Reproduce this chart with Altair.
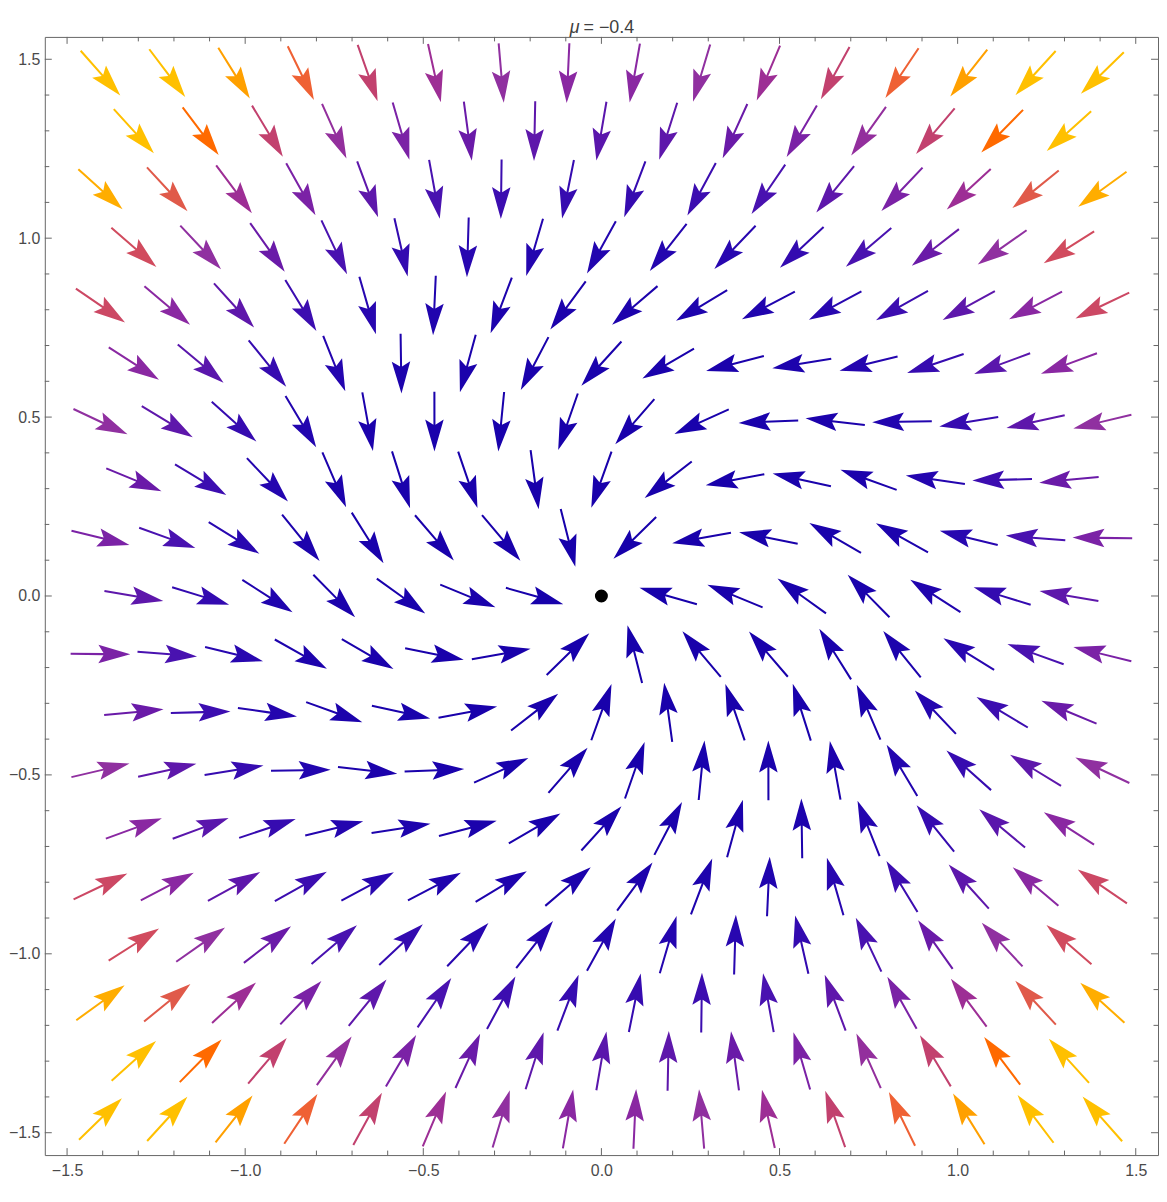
import math
import altair as alt
import pandas as pd

# Field parameters (title gives mu); polar form
# r' = mu*r + r^3 - r^5 ,  theta' = omega + b*r^2
MU = -0.4
OMEGA = 0.1
B_COEF = 0.1

# staggered (hexagonal) sample rows, top to bottom
ROW_Y = [1.46142, 1.29904, 1.13666, 0.97428, 0.81190, 0.64952, 0.48714, 0.32476, 0.16238, 0.0,
         -0.16238, -0.32476, -0.48714, -0.64952, -0.81190, -0.97428, -1.13666, -1.29904, -1.46142]
X_ODD = [-1.40625, -1.21875, -1.03125, -0.84375, -0.65625, -0.46875, -0.28125, -0.09375,
         0.09375, 0.28125, 0.46875, 0.65625, 0.84375, 1.03125, 1.21875, 1.40625]
X_EVEN = [-1.3125, -1.125, -0.9375, -0.75, -0.5625, -0.375, -0.1875, 0.0,
          0.1875, 0.375, 0.5625, 0.75, 0.9375, 1.125, 1.3125]

# colour by vector magnitude
MAG_STOPS = [0, 0.5, 1.5, 2.6, 3.4, 4.2, 4.6, 5.5, 7.0, 7.9, 8.9, 9.5, 10.6, 13.3, 15.5, 30]
MAG_COLORS = ["#1500aa", "#2606b0", "#4a12b0", "#6a1aa8", "#7a22a6", "#8a28a2", "#9030a0",
              "#9c2e96", "#c04070", "#d04a60", "#e05a4a", "#ee6038", "#ff6a00", "#ffa000",
              "#ffc000", "#ffc000"]

TICK_MAJOR = [-1.5, -1.0, -0.5, 0.0, 0.5, 1.0, 1.5]
TICK_MINOR = [-1.4, -1.3, -1.2, -1.1, -0.9, -0.8, -0.7, -0.6, -0.4, -0.3, -0.2, -0.1,
              0.1, 0.2, 0.3, 0.4, 0.6, 0.7, 0.8, 0.9, 1.1, 1.2, 1.3, 1.4]

DOM = [-1.5625, 1.5625]
W, H = 1119, 1124
SX = W / (DOM[1] - DOM[0])
SY = H / (DOM[1] - DOM[0])
FONT = "Liberation Sans"
FRAME = "#666666"
LABEL = "#4a4a4a"

rows = []
for i, y in enumerate(ROW_Y):
    xs = X_ODD if i % 2 == 0 else X_EVEN
    for x in xs:
        r2 = x * x + y * y
        radial = MU + r2 - r2 * r2
        turn = OMEGA + B_COEF * r2
        u = x * radial - y * turn
        v = y * radial + x * turn
        m = math.hypot(u, v)
        if m < 1e-12:
            continue
        deg = math.degrees(math.atan2(-v * SY, u * SX)) % 360
        rows.append({"x": x, "y": y, "mag": m, "angle": deg})
df = pd.DataFrame(rows)

ARROW = ("M-1,-0.034 L0.1,-0.034 L-0.07,-0.31 L1,0 L-0.07,0.31 "
         "L0.1,0.034 L-1,0.034 Z")

XS = alt.Scale(domain=DOM, nice=False, zero=False)
YS = alt.Scale(domain=DOM, nice=False, zero=False)
XA = alt.Axis(values=TICK_MAJOR, format=".1f", ticks=False, domain=False, grid=False,
              labelFont=FONT, labelFontSize=16, labelColor=LABEL, labelPadding=8,
              labelFlush=False, title=None)
YA = alt.Axis(values=TICK_MAJOR, format=".1f", ticks=False, domain=False, grid=False,
              labelFont=FONT, labelFontSize=16, labelColor=LABEL, labelPadding=5,
              labelFlush=False, title=None)


def xe(f):
    return alt.X(f, type="quantitative", scale=XS, axis=XA)


def ye(f):
    return alt.Y(f, type="quantitative", scale=YS, axis=YA)


arrows = alt.Chart(df).mark_point(
    shape=ARROW, filled=True, opacity=1, size=3600, strokeWidth=0
).encode(
    x=xe("x"), y=ye("y"),
    angle=alt.Angle("angle:Q", scale=None),
    color=alt.Color("mag:Q", scale=alt.Scale(domain=MAG_STOPS, range=MAG_COLORS,
                                             interpolate="rgb"), legend=None),
)

dot = alt.Chart(pd.DataFrame({"x": [0.0], "y": [0.0]})).mark_circle(
    color="black", opacity=1, size=170
).encode(x=xe("x"), y=ye("y"))

maj = pd.DataFrame({"v": TICK_MAJOR})
mnr = pd.DataFrame({"v": TICK_MINOR})
ticks = []
for d, L in ((maj, 7), (mnr, 4.5)):
    base = alt.Chart(d).mark_rule(color=FRAME, strokeWidth=1)
    ticks.append(base.encode(x=xe("v"), y=alt.value(H), y2=alt.value(H - L)))
    ticks.append(base.encode(x=xe("v"), y=alt.value(0), y2=alt.value(L)))
    ticks.append(base.encode(y=ye("v"), x=alt.value(0), x2=alt.value(L)))
    ticks.append(base.encode(y=ye("v"), x=alt.value(W), x2=alt.value(W - L)))

one = pd.DataFrame({"a": [0]})
t_mu = alt.Chart(one).mark_text(
    text="μ", font=FONT, fontSize=18, fontStyle="italic", align="right",
    baseline="alphabetic", color="#404040"
).encode(x=alt.value(W / 2 - 22), y=alt.value(-4))
t_rest = alt.Chart(one).mark_text(
    text="= −0.4", font=FONT, fontSize=18, align="left",
    baseline="alphabetic", color="#404040"
).encode(x=alt.value(W / 2 - 18), y=alt.value(-4))

chart = alt.layer(arrows, dot, *ticks, t_mu, t_rest).properties(
    width=W, height=H,
    padding={"left": 0, "top": 8, "right": 0, "bottom": 0},
).configure_view(stroke=FRAME, strokeWidth=1)

chart.save("out.html", embed_options={"renderer": "svg", "actions": False})
